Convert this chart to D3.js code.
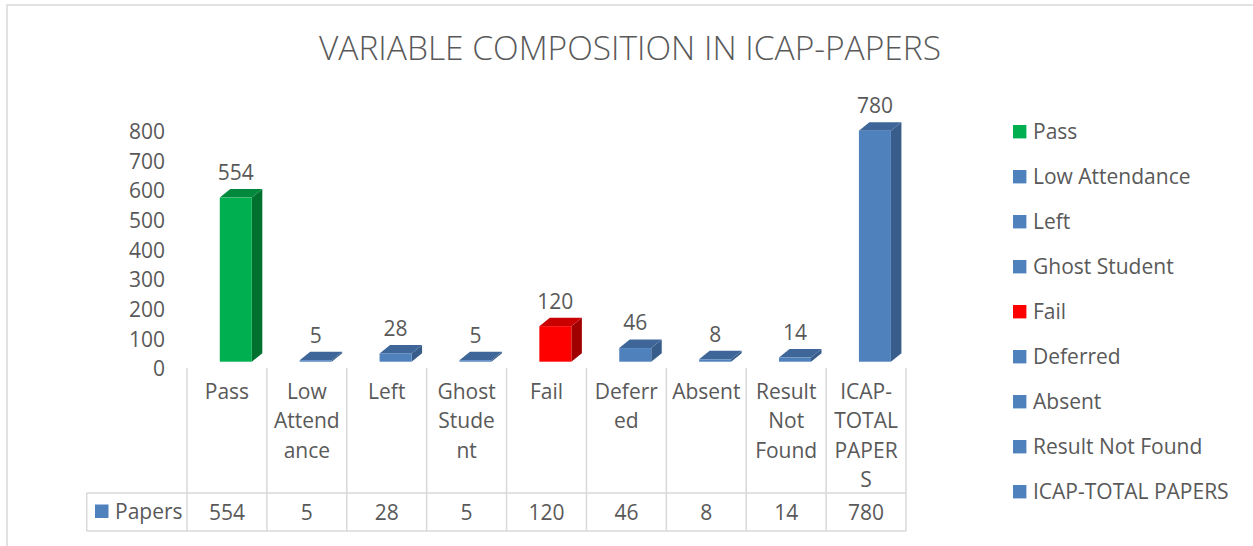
<!DOCTYPE html>
<html>
<head>
<meta charset="utf-8">
<script src="https://cdn.jsdelivr.net/npm/d3@7"></script>
<style>
  body { margin: 0; background: #fff; }
  text { font-family: "Open Sans", Lato, sans-serif; fill: #595959; }
</style>
</head>
<body>
<div id="chart"></div>
<script>
var categories = ["Pass", "Low Attendance", "Left", "Ghost Student", "Fail", "Deferred", "Absent", "Result Not Found", "ICAP-TOTAL PAPERS"];
var values = [554, 5, 28, 5, 120, 46, 8, 14, 780];
// wrapped header labels of the data table, as they appear
var headerLines = [["Pass"], ["Low", "Attend", "ance"], ["Left"], ["Ghost", "Stude", "nt"], ["Fail"], ["Deferr", "ed"], ["Absent"], ["Result", "Not", "Found"], ["ICAP-", "TOTAL", "PAPER", "S"]];
var yTicks = [0, 100, 200, 300, 400, 500, 600, 700, 800];
var seriesName = "Papers";
var title = "VARIABLE COMPOSITION IN ICAP-PAPERS";

var width = 1253, height = 546;
var fontSize = "21px";

var palette = {
  green: { front: "#00b050", side: "#00702f", top: "#00893c" },
  red:   { front: "#ff0000", side: "#a00000", top: "#c80000" },
  blue:  { front: "#4f81bd", side: "#385d8a", top: "#3e6699" }
};
var colorKey = ["green", "blue", "blue", "blue", "red", "blue", "blue", "blue", "blue"];

var svg = d3.select("#chart")
  .append("svg")
  .attr("width", width)
  .attr("height", height);

// chart area border (only top/left visible in the shot)
svg.append("rect")
  .attr("x", 7).attr("y", 5)
  .attr("width", 1260).attr("height", 560)
  .attr("fill", "none")
  .attr("stroke", "#d9d9d9")
  .attr("stroke-width", 1.5);

svg.append("text")
  .attr("x", 630)
  .attr("y", 48)
  .attr("text-anchor", "middle")
  .attr("dy", "0.35em")
  .style("font-size", "33.5px")
  .style("font-weight", 300)
  .text(title);

var xscale = d3.scaleBand()
  .domain(categories)
  .range([187, 906])
  .padding(0);

var yscale = d3.scaleLinear()
  .domain([0, 800])
  .range([361.7, 124.7]);

// y axis labels only
var yaxis = d3.axisLeft(yscale)
  .tickValues(yTicks)
  .tickSize(0)
  .tickPadding(0);

var gy = svg.append("g")
  .attr("transform", "translate(165,7.3)")
  .call(yaxis);
gy.select(".domain").remove();
gy.selectAll("text")
  .style("font-size", fontSize)
  .style("font-family", "'Open Sans', Lato, sans-serif")
  .attr("fill", "#595959");

// 3D bars
var depthX = 10.5, depthY = 8.5;
var barOffset = 32.8, barW = 32;

var bars = svg.selectAll(".bar")
  .data(categories)
  .enter()
  .append("g")
  .attr("class", "bar");

bars.each(function (c, i) {
  var g = d3.select(this);
  var x0 = xscale(c) + barOffset;
  var x1 = x0 + barW;
  var yTop = yscale(values[i]);
  var yBase = yscale(0);
  var col = palette[colorKey[i]];

  g.append("path")
    .attr("d", "M" + x1 + "," + yTop + "L" + (x1 + depthX) + "," + (yTop - depthY) +
      "L" + (x1 + depthX) + "," + (yBase - depthY) + "L" + x1 + "," + yBase + "Z")
    .attr("fill", col.side);

  g.append("path")
    .attr("d", "M" + x0 + "," + yTop + "L" + (x0 + depthX) + "," + (yTop - depthY) +
      "L" + (x1 + depthX) + "," + (yTop - depthY) + "L" + x1 + "," + yTop + "Z")
    .attr("fill", col.top);

  g.append("rect")
    .attr("x", x0)
    .attr("y", yTop)
    .attr("width", barW)
    .attr("height", Math.max(0, yBase - yTop))
    .attr("fill", col.front);

  g.append("text")
    .attr("x", x0 + barW / 2)
    .attr("y", yTop - 25)
    .attr("dy", "0.35em")
    .attr("text-anchor", "middle")
    .style("font-size", fontSize)
    .text(values[i]);
});

// data table
var grid = "#d9d9d9";
var tableTop = 493, tableBottom = 531, tableLeft = 86.7;

svg.append("line")
  .attr("x1", tableLeft).attr("x2", 906)
  .attr("y1", tableTop).attr("y2", tableTop)
  .attr("stroke", grid).attr("stroke-width", 1.5);
svg.append("line")
  .attr("x1", tableLeft).attr("x2", 906)
  .attr("y1", tableBottom).attr("y2", tableBottom)
  .attr("stroke", grid).attr("stroke-width", 1.5);
svg.append("line")
  .attr("x1", tableLeft).attr("x2", tableLeft)
  .attr("y1", tableTop).attr("y2", tableBottom)
  .attr("stroke", grid).attr("stroke-width", 1.5);

var edges = categories.map(function (c) { return xscale(c); }).concat([906]);
svg.selectAll(".vline")
  .data(edges)
  .enter()
  .append("line")
  .attr("x1", function (d) { return d; })
  .attr("x2", function (d) { return d; })
  .attr("y1", 368)
  .attr("y2", tableBottom)
  .attr("stroke", grid)
  .attr("stroke-width", 1.5);

// header labels
categories.forEach(function (c, i) {
  var t = svg.append("text")
    .attr("text-anchor", "middle")
    .style("font-size", fontSize);
  headerLines[i].forEach(function (line, j) {
    t.append("tspan")
      .attr("x", xscale(c) + xscale.bandwidth() / 2)
      .attr("y", 391.5 + j * 29.5)
      .attr("dy", "0.35em")
      .text(line);
  });
  svg.append("text")
    .attr("x", xscale(c) + xscale.bandwidth() / 2)
    .attr("y", 512.5)
    .attr("dy", "0.35em")
    .attr("text-anchor", "middle")
    .style("font-size", fontSize)
    .text(values[i]);
});

svg.append("rect")
  .attr("x", 95).attr("y", 504.5)
  .attr("width", 13.5).attr("height", 13.5)
  .attr("fill", palette.blue.front);
svg.append("text")
  .attr("x", 115).attr("y", 512)
  .attr("dy", "0.35em")
  .style("font-size", fontSize)
  .text(seriesName);

// legend
var legend = svg.selectAll(".legend")
  .data(categories)
  .enter()
  .append("g")
  .attr("class", "legend")
  .attr("transform", function (d, i) { return "translate(1013," + (131.7 + i * 45) + ")"; });

legend.append("rect")
  .attr("x", 0).attr("y", -6.7)
  .attr("width", 13.4).attr("height", 13.4)
  .attr("fill", function (d, i) { return palette[colorKey[i]].front; });

legend.append("text")
  .attr("x", 20)
  .attr("dy", "0.35em")
  .style("font-size", fontSize)
  .text(function (d) { return d; });
</script>
</body>
</html>
